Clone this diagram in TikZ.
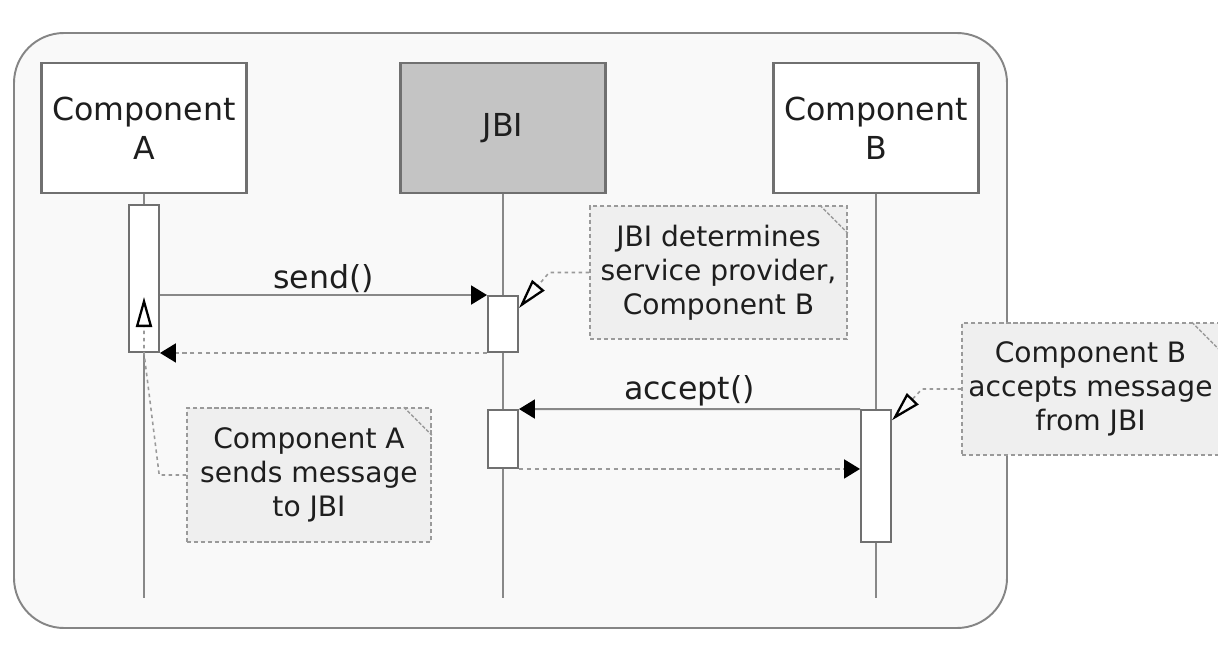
\documentclass[tikz,border=0pt]{standalone}
\usepackage{fontspec}
\setmainfont{DejaVu Sans}
\usepackage{tikz}
\usetikzlibrary{arrows.meta}

\definecolor{framefill}{HTML}{F9F9F9}
\definecolor{framegray}{HTML}{858585}
\definecolor{boxgray}{HTML}{707070}
\definecolor{jbifill}{HTML}{C4C4C4}
\definecolor{linegray}{HTML}{888888}
\definecolor{dotgray}{HTML}{9A9A9A}
\definecolor{notefill}{HTML}{EFEFEF}
\definecolor{txt}{HTML}{1E1E1E}

\tikzset{
    frame/.style={draw=framegray, fill=framefill, line width=1.1pt, rounded corners=1cm},
    lifebox/.style={draw=boxgray, fill=white, line width=1.4pt, minimum width=4.1cm, minimum height=2.6cm, align=center, text=txt, font=\fontsize{18}{22}\selectfont},
    lifeline/.style={draw=linegray, line width=1.1pt},
    activation/.style={draw=boxgray, fill=white, line width=1.1pt, minimum width=0.6cm, inner sep=0pt},
    msg/.style={draw=linegray, line width=1.1pt, -{Triangle[length=0.32cm, width=0.38cm, color=black]}},
    reply/.style={msg, draw=dotgray, dash pattern=on 2.5pt off 2pt},
    msglabel/.style={above, inner sep=1pt, text=txt, font=\fontsize{18}{22}\selectfont},
    note/.style={draw=dotgray, fill=notefill, line width=0.9pt, dash pattern=on 2.4pt off 1.6pt, inner sep=0pt, align=center, text=txt, font=\fontsize{16}{19.4}\selectfont},
    fold/.style={draw=dotgray, line width=0.8pt, dash pattern=on 2pt off 1pt},
    notelink/.style={draw=dotgray, line width=0.9pt, dash pattern=on 2pt off 2pt, -{Triangle[open, length=0.6cm, width=0.32cm, color=black, line width=1.3pt]}}
}

\begin{document}
\begin{tikzpicture}
    \useasboundingbox (0, 0) rectangle (24.36, 13.24);
    \draw[frame] (0.28, 0.68) rectangle (20.14, 12.58);
    \node[lifebox] (compA) at (2.88, 10.68) {Component\\A};
    \node[lifebox, fill=jbifill] (jbi) at (10.06, 10.68) {JBI};
    \node[lifebox] (compB) at (17.52, 10.68) {Component\\B};
    \coordinate (endA) at (2.88, 1.28);
    \coordinate (endJ) at (10.06, 1.28);
    \coordinate (endB) at (17.52, 1.28);
    \draw[lifeline] (compA) -- (endA);
    \draw[lifeline] (jbi) -- (endJ);
    \draw[lifeline] (compB) -- (endB);
    \node[activation, minimum height=2.94cm] (actA) at (2.88, 7.67) {};
    \node[activation, minimum height=1.12cm] (actJ1) at (10.06, 6.76) {};
    \node[activation, minimum height=1.16cm] (actJ2) at (10.06, 4.46) {};
    \node[activation, minimum height=2.64cm] (actB) at (17.52, 3.72) {};
    \draw[msg] (actA.east |- actJ1.north) -- node[msglabel] {send()} (actJ1.north west);
    \draw[reply] (actJ1.south west) -- (actA.south east);
    \draw[msg] (actB.north west) -- node[msglabel] {accept()} (actJ2.north east);
    \draw[reply] (actJ2.south east) -- (actJ2.south east -| actB.west);
    \node[note, minimum width=5.14cm, minimum height=2.66cm] (noteJ) at (14.37, 7.79) {JBI determines\\service provider,\\Component B};
    \node[note, minimum width=5.14cm, minimum height=2.64cm] (noteB) at (21.81, 5.46) {Component B\\accepts message\\from JBI};
    \node[note, minimum width=4.88cm, minimum height=2.68cm] (noteA) at (6.18, 3.74) {Component A\\sends message\\to JBI};
    \draw[fold] ([xshift=-0.56cm]noteJ.north east) -- ([yshift=-0.56cm]noteJ.north east);
    \draw[fold] ([xshift=-0.56cm]noteB.north east) -- ([yshift=-0.56cm]noteB.north east);
    \draw[fold] ([xshift=-0.56cm]noteA.north east) -- ([yshift=-0.56cm]noteA.north east);
    \coordinate (tipA) at (2.88, 7.3);
    \draw[notelink] (noteJ.west) -- ++(-0.8, 0) -- (actJ1.45);
    \draw[notelink] (noteB.west) -- ++(-0.78, 0) -- (actB.74);
    \draw[notelink] (noteA.west) -- ++(-0.54, 0) -- (actA.south) -- (tipA);
\end{tikzpicture}
\end{document}
